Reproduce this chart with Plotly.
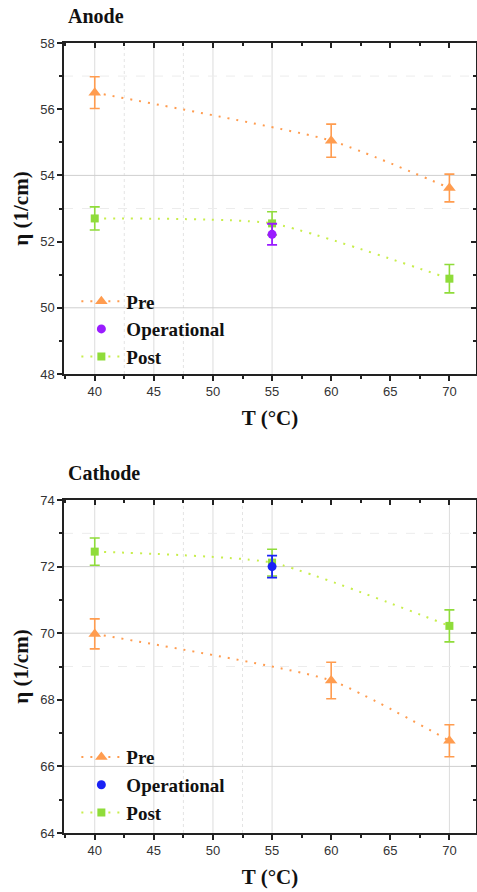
import plotly.graph_objects as go

# ---- data -------------------------------------------------------------
temps_pre = [40, 60, 70]
temps_post = [40, 55, 70]
temps_op = [55]

anode_pre = [56.50, 55.05, 53.62]
anode_pre_err = [0.48, 0.50, 0.42]
anode_op = [52.22]
anode_op_err = [0.32]
anode_post = [52.70, 52.55, 50.88]
anode_post_err = [0.35, 0.35, 0.43]

cathode_pre = [69.98, 68.58, 66.77]
cathode_pre_err = [0.45, 0.55, 0.48]
cathode_op = [72.00]
cathode_op_err = [0.33]
cathode_post = [72.45, 72.12, 70.22]
cathode_post_err = [0.41, 0.40, 0.48]

x_ticks = [40, 45, 50, 55, 60, 65, 70]
anode_ticks = [48, 50, 52, 54, 56, 58]
cathode_ticks = [64, 66, 68, 70, 72, 74]

# grid lines drawn by the plotting software
anode_vgrid = [40, 45, 50, 55]
anode_vgrid_minor = [42.5, 47.5]
anode_hgrid = [50, 54]
anode_hgrid_minor = [53, 57]
cathode_vgrid = [40, 45, 50, 55, 70]
cathode_vgrid_minor = [47.5, 52.5]
cathode_hgrid = [66, 70, 72]
cathode_hgrid_minor = [69, 73]

PRE_C = "#ff9c4f"
POST_C = "#8fdc3a"
POST_LINE = "#c8ee4c"
ANODE_OP_C = "#9a1cff"
CATHODE_OP_C = "#1a22f5"

X_RANGE = [37.4, 72.25]
SERIF = "Liberation Serif"
SANS = "Liberation Sans"
DOTS = "2px,7px"

fig = go.Figure()


def add_panel(row, pre, pre_err, op, op_err, post, post_err, op_color, legend):
    xa = "x" if row == 1 else "x2"
    ya = "y" if row == 1 else "y2"
    common = dict(xaxis=xa, yaxis=ya, legend=legend)
    fig.add_trace(go.Scatter(
        x=temps_pre, y=pre, name="Pre", mode="lines+markers", legendrank=1,
        line=dict(color=PRE_C, width=2, dash=DOTS, shape="spline", smoothing=0.5),
        marker=dict(symbol="triangle-up", size=11, color=PRE_C),
        error_y=dict(type="data", array=pre_err, color=PRE_C, thickness=1.6, width=5),
        **common))
    fig.add_trace(go.Scatter(
        x=temps_post, y=post, name="Post", mode="lines+markers", legendrank=3,
        line=dict(color=POST_LINE, width=2, dash=DOTS, shape="spline", smoothing=0.5),
        marker=dict(symbol="square", size=8, color=POST_C),
        error_y=dict(type="data", array=post_err, color=POST_C, thickness=1.6, width=5),
        **common))
    fig.add_trace(go.Scatter(
        x=temps_op, y=op, name="Operational", mode="markers", legendrank=2,
        marker=dict(symbol="circle", size=9, color=op_color),
        error_y=dict(type="data", array=op_err, color=op_color, thickness=1.8, width=5),
        **common))


add_panel(1, anode_pre, anode_pre_err, anode_op, anode_op_err,
          anode_post, anode_post_err, ANODE_OP_C, "legend")
add_panel(2, cathode_pre, cathode_pre_err, cathode_op, cathode_op_err,
          cathode_post, cathode_post_err, CATHODE_OP_C, "legend2")

# ---- grid lines --------------------------------------------------------
shapes = []


def vlines(vals, xa, ya, dash, color):
    for v in vals:
        shapes.append(dict(type="line", xref=xa, yref=f"{ya} domain", x0=v, x1=v,
                           y0=0, y1=1, layer="below",
                           line=dict(color=color, width=1, dash=dash)))


def hlines(vals, xa, ya, dash, color):
    for v in vals:
        shapes.append(dict(type="line", xref=f"{xa} domain", yref=ya, x0=0, x1=1,
                           y0=v, y1=v, layer="below",
                           line=dict(color=color, width=1, dash=dash)))


vlines(anode_vgrid, "x", "y", "solid", "#dcdcdc")
vlines(anode_vgrid_minor, "x", "y", "dot", "#e4e4e4")
hlines(anode_hgrid, "x", "y", "solid", "#cfcfcf")
hlines(anode_hgrid_minor, "x", "y", "dash", "#ececec")
vlines(cathode_vgrid, "x2", "y2", "solid", "#dcdcdc")
vlines(cathode_vgrid_minor, "x2", "y2", "dot", "#e4e4e4")
hlines(cathode_hgrid, "x2", "y2", "solid", "#cfcfcf")
hlines(cathode_hgrid_minor, "x2", "y2", "dash", "#ececec")

# ---- axes --------------------------------------------------------------
ANODE_DOM = [0.581, 1.0]
CATHODE_DOM = [0.0, 0.4215]

tickfont = dict(family=SANS, size=13, color="#333333")
titlefont = dict(family=SERIF, size=21, color="#111111", weight="bold")

x_common = dict(range=X_RANGE, tickvals=x_ticks, ticks="outside", ticklen=5,
                tickwidth=1.5, tickcolor="#222", showline=True, linecolor="#222",
                linewidth=1.5, showgrid=False, zeroline=False, tickfont=tickfont,
                minor=dict(dtick=2.5, tick0=40, ticks="outside", ticklen=3,
                           tickcolor="#222", showgrid=False),
                title=dict(text="T (°C)", font=titlefont, standoff=12))


def y_common(ticks, dom):
    return dict(range=[ticks[0], ticks[-1]], tickvals=ticks, domain=dom,
                ticks="outside", ticklen=5, tickwidth=1.5, tickcolor="#222",
                showline=True, linecolor="#222", linewidth=1.5, showgrid=False,
                zeroline=False, tickfont=tickfont,
                minor=dict(dtick=1, ticks="outside", ticklen=3, tickcolor="#222",
                           showgrid=False),
                title=dict(text="η (1/cm)", font=titlefont, standoff=6))


def mirror_x(anchor):
    return dict(overlaying=anchor, side="top", range=X_RANGE, tickvals=x_ticks,
                ticks="inside", ticklen=5, tickwidth=1.5, tickcolor="#222",
                showline=True, linecolor="#222", linewidth=1.5,
                showticklabels=False, showgrid=False, zeroline=False,
                minor=dict(dtick=2.5, tick0=40, ticks="inside", ticklen=3,
                           tickcolor="#222", showgrid=False))


def mirror_y(anchor, ticks):
    return dict(overlaying=anchor, side="right", range=[ticks[0], ticks[-1]],
                tickvals=ticks, ticks="inside", ticklen=5, tickwidth=1.5,
                tickcolor="#222", showline=True, linecolor="#222", linewidth=1.5,
                showticklabels=False, showgrid=False, zeroline=False,
                minor=dict(dtick=1, ticks="inside", ticklen=3, tickcolor="#222",
                           showgrid=False))


legend_common = dict(font=dict(family=SERIF, size=19, color="#111", weight="bold"),
                     bgcolor="rgba(0,0,0,0)", xanchor="left", yanchor="top",
                     itemwidth=40, tracegroupgap=0, traceorder="normal")

fig.update_layout(
    width=477, height=892,
    margin=dict(l=64, r=1, t=43, b=59),
    paper_bgcolor="white", plot_bgcolor="white",
    xaxis=dict(**x_common, anchor="y", domain=[0, 1]),
    yaxis=dict(**y_common(anode_ticks, ANODE_DOM), anchor="x"),
    xaxis2=dict(**x_common, anchor="y2", domain=[0, 1]),
    yaxis2=dict(**y_common(cathode_ticks, CATHODE_DOM), anchor="x2"),
    xaxis3=dict(**mirror_x("x"), anchor="y3"),
    yaxis3=dict(**mirror_y("y", anode_ticks), anchor="x3", domain=ANODE_DOM),
    xaxis4=dict(**mirror_x("x2"), anchor="y4"),
    yaxis4=dict(**mirror_y("y2", cathode_ticks), anchor="x4", domain=CATHODE_DOM),
    legend=dict(**legend_common, x=0.03, y=0.697),
    legend2=dict(**legend_common, x=0.03, y=0.12),
    shapes=shapes,
    annotations=[
        dict(text="Anode", xref="paper", yref="paper", x=0.0, y=1.0, yshift=14,
             xshift=2, xanchor="left", yanchor="bottom", showarrow=False,
             font=dict(family=SERIF, size=20, color="#111", weight="bold")),
        dict(text="Cathode", xref="paper", yref="paper", x=0.0, y=CATHODE_DOM[1],
             yshift=14, xshift=2, xanchor="left", yanchor="bottom", showarrow=False,
             font=dict(family=SERIF, size=20, color="#111", weight="bold")),
    ],
)

# invisible traces to activate the mirrored axes
fig.add_trace(go.Scatter(x=[None], y=[None], xaxis="x3", yaxis="y3",
                         showlegend=False, hoverinfo="skip"))
fig.add_trace(go.Scatter(x=[None], y=[None], xaxis="x4", yaxis="y4",
                         showlegend=False, hoverinfo="skip"))

fig.write_html("out.html")
